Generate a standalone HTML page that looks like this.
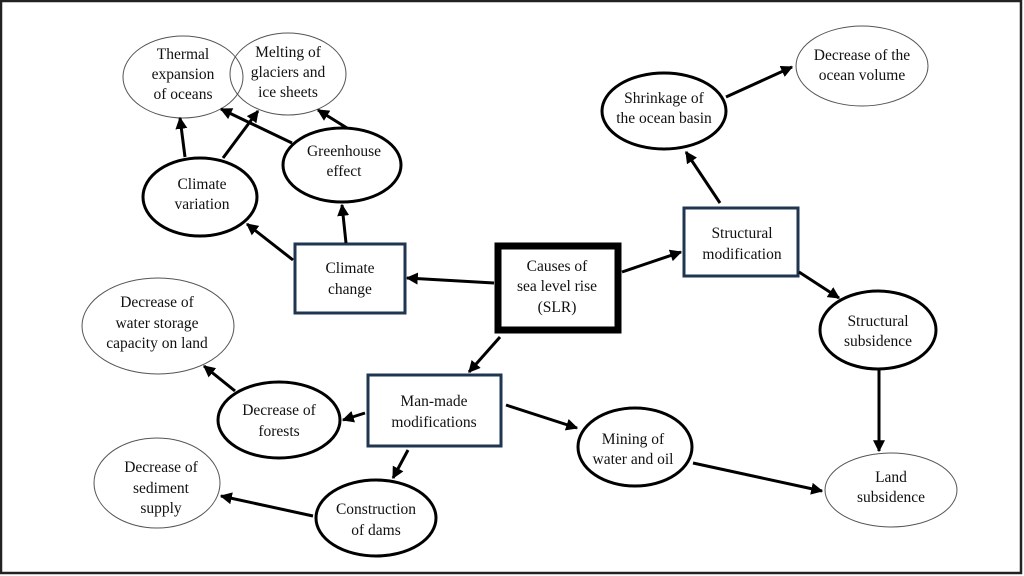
<!DOCTYPE html>
<html><head><meta charset="utf-8"><style>
html,body{margin:0;padding:0;background:#fff}
svg{display:block}
text{font-family:"Liberation Serif",serif;font-size:15.5px;fill:#111;text-anchor:middle}
</style></head><body>
<svg width="1024" height="576" viewBox="0 0 1024 576" xmlns="http://www.w3.org/2000/svg">
<defs>
<marker id="a" viewBox="0 0 10 10" refX="9" refY="5" markerWidth="4" markerHeight="4" orient="auto" markerUnits="strokeWidth">
<path d="M0,0 L10,5 L0,10 z" fill="#000"/></marker>
</defs>
<rect x="1" y="1" width="1020" height="572" fill="#fff" stroke="#222" stroke-width="2.5"/>

<!-- thin ellipses -->
<g fill="none" stroke="#555" stroke-width="1">
<ellipse cx="183" cy="77" rx="60" ry="41"/>
<ellipse cx="288" cy="74" rx="58" ry="41"/>
<ellipse cx="862" cy="66" rx="66" ry="40"/>
<ellipse cx="891" cy="490" rx="66" ry="37"/>
<ellipse cx="158" cy="326" rx="76" ry="48"/>
<ellipse cx="157" cy="483" rx="63" ry="45"/>
</g>
<!-- thick ellipses -->
<g fill="none" stroke="#000" stroke-width="3">
<ellipse cx="200" cy="197" rx="57" ry="39"/>
<ellipse cx="342" cy="165" rx="59" ry="37"/>
<ellipse cx="664" cy="111" rx="62" ry="38"/>
<ellipse cx="878" cy="330" rx="58" ry="39"/>
<ellipse cx="635" cy="447" rx="57" ry="39"/>
<ellipse cx="279" cy="420" rx="61" ry="38"/>
<ellipse cx="376" cy="518" rx="60" ry="38"/>
</g>
<!-- boxes -->
<g fill="#fff" stroke="#1f3550" stroke-width="3">
<rect x="295" y="244" width="110" height="69"/>
<rect x="684" y="208" width="114" height="68"/>
<rect x="368" y="375" width="133" height="71"/>
</g>
<rect x="498" y="246" width="120" height="84" fill="#fff" stroke="#000" stroke-width="7"/>

<!-- arrows -->
<g stroke="#000" stroke-width="3" fill="none" marker-end="url(#a)">
<line x1="494" y1="283" x2="407" y2="278"/>
<line x1="622" y1="272" x2="681" y2="252"/>
<line x1="720" y1="203" x2="686" y2="152"/>
<line x1="726" y1="97" x2="792" y2="67"/>
<line x1="799" y1="272" x2="839" y2="298"/>
<line x1="879" y1="370" x2="879" y2="451"/>
<line x1="693" y1="463" x2="822" y2="491"/>
<line x1="506" y1="405" x2="577" y2="428"/>
<line x1="500" y1="337" x2="469" y2="372"/>
<line x1="365" y1="413" x2="343" y2="420"/>
<line x1="408" y1="450" x2="393" y2="478"/>
<line x1="313" y1="516" x2="221" y2="496"/>
<line x1="235" y1="391" x2="204" y2="366"/>
<line x1="293" y1="260" x2="247" y2="224"/>
<line x1="346" y1="243" x2="342" y2="205"/>
<line x1="185" y1="157" x2="180" y2="118"/>
<line x1="223" y1="158" x2="258" y2="111"/>
<line x1="292" y1="143" x2="221" y2="109"/>
<line x1="347" y1="128" x2="318" y2="110"/>
</g>

<!-- labels -->
<text x="183" y="59">Thermal</text>
<text x="183" y="79">expansion</text>
<text x="183" y="99">of oceans</text>
<text x="288" y="57">Melting of</text>
<text x="288" y="77">glaciers and</text>
<text x="288" y="97">ice sheets</text>
<text x="202" y="189">Climate</text>
<text x="202" y="209">variation</text>
<text x="344" y="156">Greenhouse</text>
<text x="344" y="176">effect</text>
<text x="350" y="273">Climate</text>
<text x="350" y="294">change</text>
<text x="557" y="271">Causes of</text>
<text x="557" y="291">sea level rise</text>
<text x="557" y="312">(SLR)</text>
<text x="742" y="238">Structural</text>
<text x="742" y="259">modification</text>
<text x="664" y="103">Shrinkage of</text>
<text x="664" y="123">the ocean basin</text>
<text x="862" y="60">Decrease of the</text>
<text x="862" y="80">ocean volume</text>
<text x="878" y="326">Structural</text>
<text x="878" y="346">subsidence</text>
<text x="891" y="482">Land</text>
<text x="891" y="502">subsidence</text>
<text x="633" y="444">Mining of</text>
<text x="633" y="464">water and oil</text>
<text x="434" y="406">Man-made</text>
<text x="434" y="427">modifications</text>
<text x="279" y="415">Decrease of</text>
<text x="279" y="436">forests</text>
<text x="157" y="307">Decrease of</text>
<text x="157" y="328">water storage</text>
<text x="157" y="348">capacity on land</text>
<text x="161" y="472">Decrease of</text>
<text x="161" y="493">sediment</text>
<text x="161" y="513">supply</text>
<text x="376" y="514">Construction</text>
<text x="376" y="535">of dams</text>
</svg>
</body></html>
